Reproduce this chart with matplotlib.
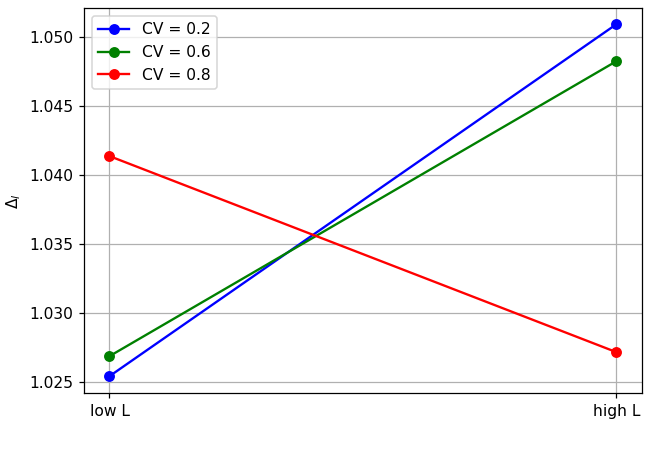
import matplotlib
matplotlib.use('Agg')
import matplotlib.pyplot as plt

# data
levels = ['low L', 'high L']
cv_labels = ['CV = 0.2', 'CV = 0.6', 'CV = 0.8']
cv_02 = [1.02543, 1.05094]
cv_06 = [1.02688, 1.04826]
cv_08 = [1.04138, 1.02717]
colors = ['blue', 'green', 'red']

dpi = 112
fig = plt.figure(figsize=(647 / dpi, 454 / dpi), dpi=dpi)
ax = fig.add_axes([0.130, 0.134, 0.862, 0.848])

for vals, lab, col in zip([cv_02, cv_06, cv_08], cv_labels, colors):
    ax.plot(levels, vals, marker='o', color=col, label=lab)

ax.set_ylabel(r'$\Delta_l$')
ax.set_ylim(1.0242, 1.0521)
ax.yaxis.set_major_formatter(matplotlib.ticker.FormatStrFormatter('%.3f'))
ax.grid(True)
ax.legend(loc='upper left')

fig.savefig('out.png', dpi=dpi)
